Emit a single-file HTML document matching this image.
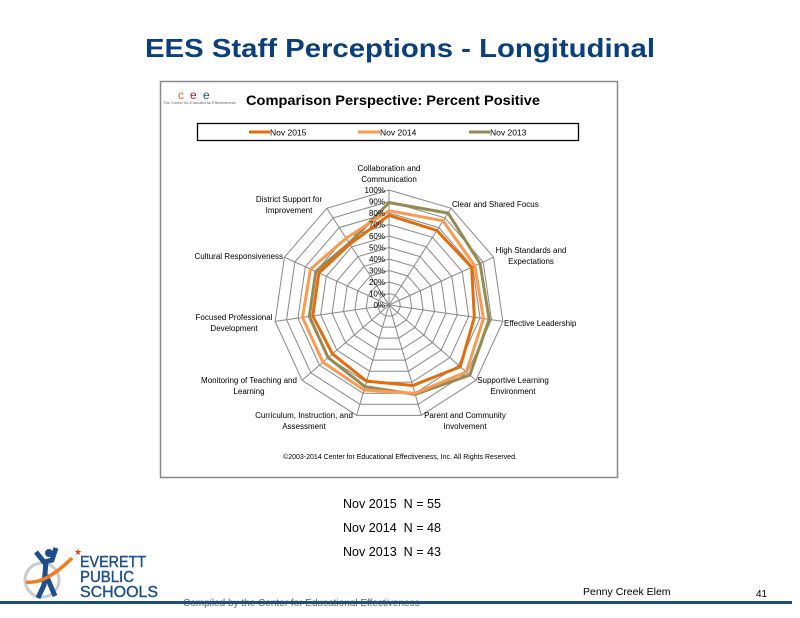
<!DOCTYPE html>
<html><head><meta charset="utf-8"><style>
html,body{margin:0;padding:0;background:#fff;width:800px;height:618px;overflow:hidden;font-family:"Liberation Sans",sans-serif}
</style></head><body>
<svg width="800" height="618" viewBox="0 0 800 618" xmlns="http://www.w3.org/2000/svg" font-family="Liberation Sans, sans-serif">
<text x="400" y="57" text-anchor="middle" font-size="26" font-weight="bold" fill="#0b3f7c" textLength="510" lengthAdjust="spacingAndGlyphs">EES Staff Perceptions - Longitudinal</text>
<rect x="160.5" y="81.5" width="457" height="396" fill="#fff" stroke="#888" stroke-width="1.5"/>
<g>
<text x="178" y="99" font-size="12" fill="#e07020">c</text>
<text x="190" y="99" font-size="12" fill="#b02030">e</text>
<text x="203" y="99" font-size="12" fill="#1f4e8c">e</text>
<text x="163" y="104" font-size="4" fill="#666">The Center for Educational Effectiveness</text>
</g>
<text x="393" y="105" text-anchor="middle" font-size="14" font-weight="bold" fill="#000" textLength="294" lengthAdjust="spacingAndGlyphs">Comparison Perspective: Percent Positive</text>
<g>
<rect x="197.5" y="123.5" width="381" height="17" fill="#fff" stroke="#000" stroke-width="1.3"/>
<line x1="249" y1="132" x2="270" y2="132" stroke="#e36c0a" stroke-width="3"/>
<text x="270" y="135.5" font-size="8.5" fill="#000">Nov 2015</text>
<line x1="358" y1="132" x2="380" y2="132" stroke="#fd9a50" stroke-width="3"/>
<text x="380" y="135.5" font-size="8.5" fill="#000">Nov 2014</text>
<line x1="469" y1="132" x2="490" y2="132" stroke="#948a54" stroke-width="3"/>
<text x="490" y="135.5" font-size="8.5" fill="#000">Nov 2013</text>
</g>
<g id="radar"></g>
<text x="400" y="459" text-anchor="middle" font-size="7" fill="#000">©2003-2014 Center for Educational Effectiveness, Inc. All Rights Reserved.</text>
<text x="343" y="508" font-size="12.5" fill="#000" textLength="98" lengthAdjust="spacingAndGlyphs" xml:space="preserve">Nov 2015  N = 55</text>
<text x="343" y="532" font-size="12.5" fill="#000" textLength="98" lengthAdjust="spacingAndGlyphs" xml:space="preserve">Nov 2014  N = 48</text>
<text x="343" y="556" font-size="12.5" fill="#000" textLength="98" lengthAdjust="spacingAndGlyphs" xml:space="preserve">Nov 2013  N = 43</text>
<g>
<circle cx="42" cy="580" r="17" fill="none" stroke="#c8ccd2" stroke-width="3"/>
<path d="M36 552 L44 562 L52 560 L56 548" stroke="#1f4e8c" stroke-width="5" fill="none"/>
<circle cx="49" cy="553" r="4" fill="#1f4e8c"/>
<path d="M46 562 L44 585 L38 598 M46 575 L55 596" stroke="#1f4e8c" stroke-width="5" fill="none"/>
<path d="M26 582 Q45 585 72 558" stroke="#f07d22" stroke-width="3.5" fill="none"/>
<text x="74" y="555" font-size="9" fill="#e04020">★</text>
<text x="80" y="567" font-size="16" fill="#1f4e8c" stroke="#1f4e8c" stroke-width="0.4" textLength="66" lengthAdjust="spacingAndGlyphs">EVERETT</text>
<text x="80" y="582" font-size="16" fill="#1f4e8c" stroke="#1f4e8c" stroke-width="0.4" textLength="54" lengthAdjust="spacingAndGlyphs">PUBLIC</text>
<text x="80" y="597" font-size="16" fill="#1f4e8c" stroke="#1f4e8c" stroke-width="0.4" textLength="78" lengthAdjust="spacingAndGlyphs">SCHOOLS</text>
</g>
<text x="183" y="606" font-size="10" fill="#666">Compiled by the Center for Educational Effectiveness</text>
<rect x="0" y="601" width="792" height="3" fill="#1f4e79"/>
<text x="583" y="595" font-size="10.5" fill="#000">Penny Creek Elem</text>
<text x="756" y="597" font-size="10" fill="#000">41</text>
</svg>
<script>
const categories = ["Collaboration and|Communication","Clear and Shared Focus","High Standards and|Expectations","Effective Leadership","Supportive Learning|Environment","Parent and Community|Involvement","Curriculum, Instruction, and|Assessment","Monitoring of Teaching and|Learning","Focused Professional|Development","Cultural Responsiveness","District Support for|Improvement"];
const nov2015 = [78,77,79,75,82,73,69,65,67,67,63];
const nov2014 = [82,87,82,83,89,80,77,76,76,75,69];
const nov2013 = [89,95,87,88,93,81,74,70,70,70,64];
const tickLabels = ["0%","10%","20%","30%","40%","50%","60%","70%","80%","90%","100%"];
const seriesNames = ["Nov 2013","Nov 2014","Nov 2015"];
// label layout (x, first baseline, anchor)
const labelLayout = [[389,171,'middle'],[452,207,'start'],[531,253,'middle'],[504,326,'start'],[513,383,'middle'],[465,418,'middle'],[304,418,'middle'],[249,383,'middle'],[234,320,'middle'],[283,259,'end'],[289,202,'middle']];

const NS="http://www.w3.org/2000/svg";
const g=document.getElementById('radar');
const cx=389,cy=305,R=115,n=categories.length;
function ang(i){return -Math.PI/2+i*2*Math.PI/n;}
function pt(i,v){const a=ang(i);return [cx+Math.cos(a)*R*v/100, cy+Math.sin(a)*R*v/100];}
function mk(tag,attrs){const e=document.createElementNS(NS,tag);for(const k in attrs)e.setAttribute(k,attrs[k]);g.appendChild(e);return e;}
for(let t=1;t<tickLabels.length;t++){
  const v=t*100/(tickLabels.length-1);
  const p=mk('polygon',{points:categories.map((c,i)=>pt(i,v).join(',')).join(' '),fill:'none',stroke:'#888','stroke-width':1});
  
  
}
categories.forEach((c,i)=>{
  const [x,y]=pt(i,100);
  const l=mk('line',{x1:cx,y1:cy,x2:x,y2:y,stroke:'#888','stroke-width':1});
  
  
});
const series=[[nov2013,'#948a54'],[nov2014,'#fd9a50'],[nov2015,'#e36c0a']];
series.forEach(([vals,col],si)=>{
  const p=mk('polygon',{points:vals.map((v,i)=>pt(i,v).join(',')).join(' '),fill:'none',stroke:col,'stroke-width':3,'stroke-linejoin':'round'});
  
  
});
tickLabels.forEach((t,k)=>{
  const v=k*100/(tickLabels.length-1);
  const tx=mk('text',{x:cx-4,y:cy-R*v/100+3,'text-anchor':'end','font-size':8,fill:'#000'});
  tx.textContent=t;
  
  
});
categories.forEach((c,i)=>{
  const [x,y,anchor]=labelLayout[i];
  const tx=mk('text',{x:x,y:y,'text-anchor':anchor,'font-size':8,fill:'#000'});
  
  
  c.split('|').forEach((ln,j)=>{
    const ts=document.createElementNS(NS,'tspan');
    ts.setAttribute('x',x);
    ts.setAttribute('dy', j===0?0:11);
    ts.textContent=ln;
    tx.appendChild(ts);
  });
});
</script>
</body></html>
